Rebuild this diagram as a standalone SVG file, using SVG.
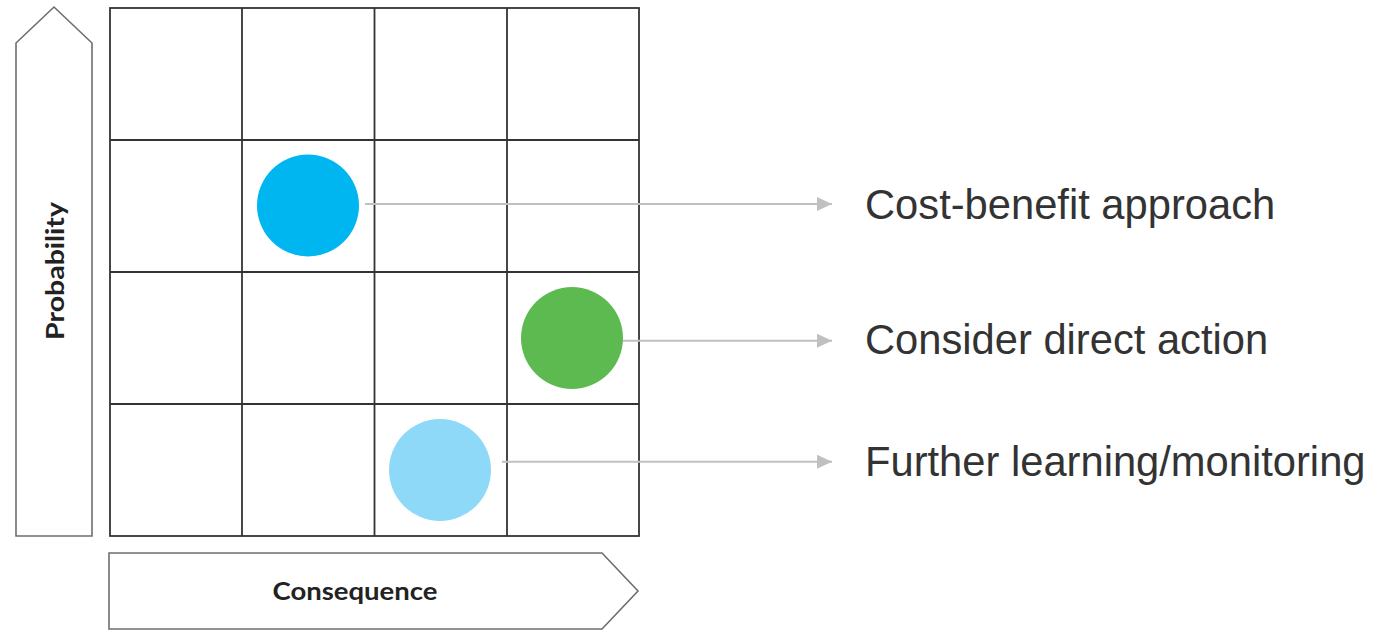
<svg xmlns="http://www.w3.org/2000/svg" width="1381" height="631" viewBox="0 0 1381 631">
<style>
.grid{fill:none;stroke:#333;stroke-width:1.8}
.axis{fill:#fff;stroke:#6e6e6e;stroke-width:1.6}
.axlbl{font-family:"Lato","Liberation Sans",sans-serif;font-weight:bold;font-size:25px;fill:#222}
.lbl{font-family:"Liberation Sans",Arial,sans-serif;font-size:41.7px;fill:#333}
.conn{stroke:#c0c0c0;stroke-width:2;fill:none}
</style>
<defs>
<marker id="ah" markerUnits="userSpaceOnUse" markerWidth="16" markerHeight="16" refX="15" refY="7" orient="auto">
<path d="M0,0 L15,7 L0,14 Z" fill="#c0c0c0"/>
</marker>
</defs>
<rect width="1381" height="631" fill="#fff"/>
<g id="grid">
<rect class="grid" x="110" y="8" width="529" height="528"/>
<line class="grid" x1="242" y1="8" x2="242" y2="536"/>
<line class="grid" x1="374.5" y1="8" x2="374.5" y2="536"/>
<line class="grid" x1="507" y1="8" x2="507" y2="536"/>
<line class="grid" x1="110" y1="140" x2="639" y2="140"/>
<line class="grid" x1="110" y1="272" x2="639" y2="272"/>
<line class="grid" x1="110" y1="404" x2="639" y2="404"/>
</g>
<g id="probability-axis">
<path class="axis" d="M16,536 L16,43 L54,7 L92,43 L92,536 Z"/>
<text class="axlbl" transform="translate(64,271) rotate(-90)" text-anchor="middle" textLength="138" lengthAdjust="spacingAndGlyphs">Probability</text>
</g>
<g id="consequence-axis">
<path class="axis" d="M109,553 L602,553 L638,591 L602,629 L109,629 Z"/>
<text class="axlbl" x="355" y="600" text-anchor="middle" textLength="165" lengthAdjust="spacingAndGlyphs">Consequence</text>
</g>
<g id="circle-blue"><circle cx="308" cy="205.5" r="51" fill="#00b6f0"/></g>
<g id="circle-green"><circle cx="572" cy="338" r="51" fill="#5dba51"/></g>
<g id="circle-lightblue"><circle cx="440" cy="470" r="51" fill="#8ed8f8"/></g>
<g id="connectors">
<line class="conn" x1="365" y1="204" x2="832" y2="204" marker-end="url(#ah)"/>
<line class="conn" x1="623" y1="340.7" x2="832" y2="340.7" marker-end="url(#ah)"/>
<line class="conn" x1="502" y1="461.7" x2="832" y2="461.7" marker-end="url(#ah)"/>
</g>
<g id="label-cost-benefit"><text class="lbl" x="865" y="219">Cost-benefit approach</text></g>
<g id="label-direct-action"><text class="lbl" x="865" y="354">Consider direct action</text></g>
<g id="label-monitoring"><text class="lbl" x="865" y="476">Further learning/monitoring</text></g>
</svg>
